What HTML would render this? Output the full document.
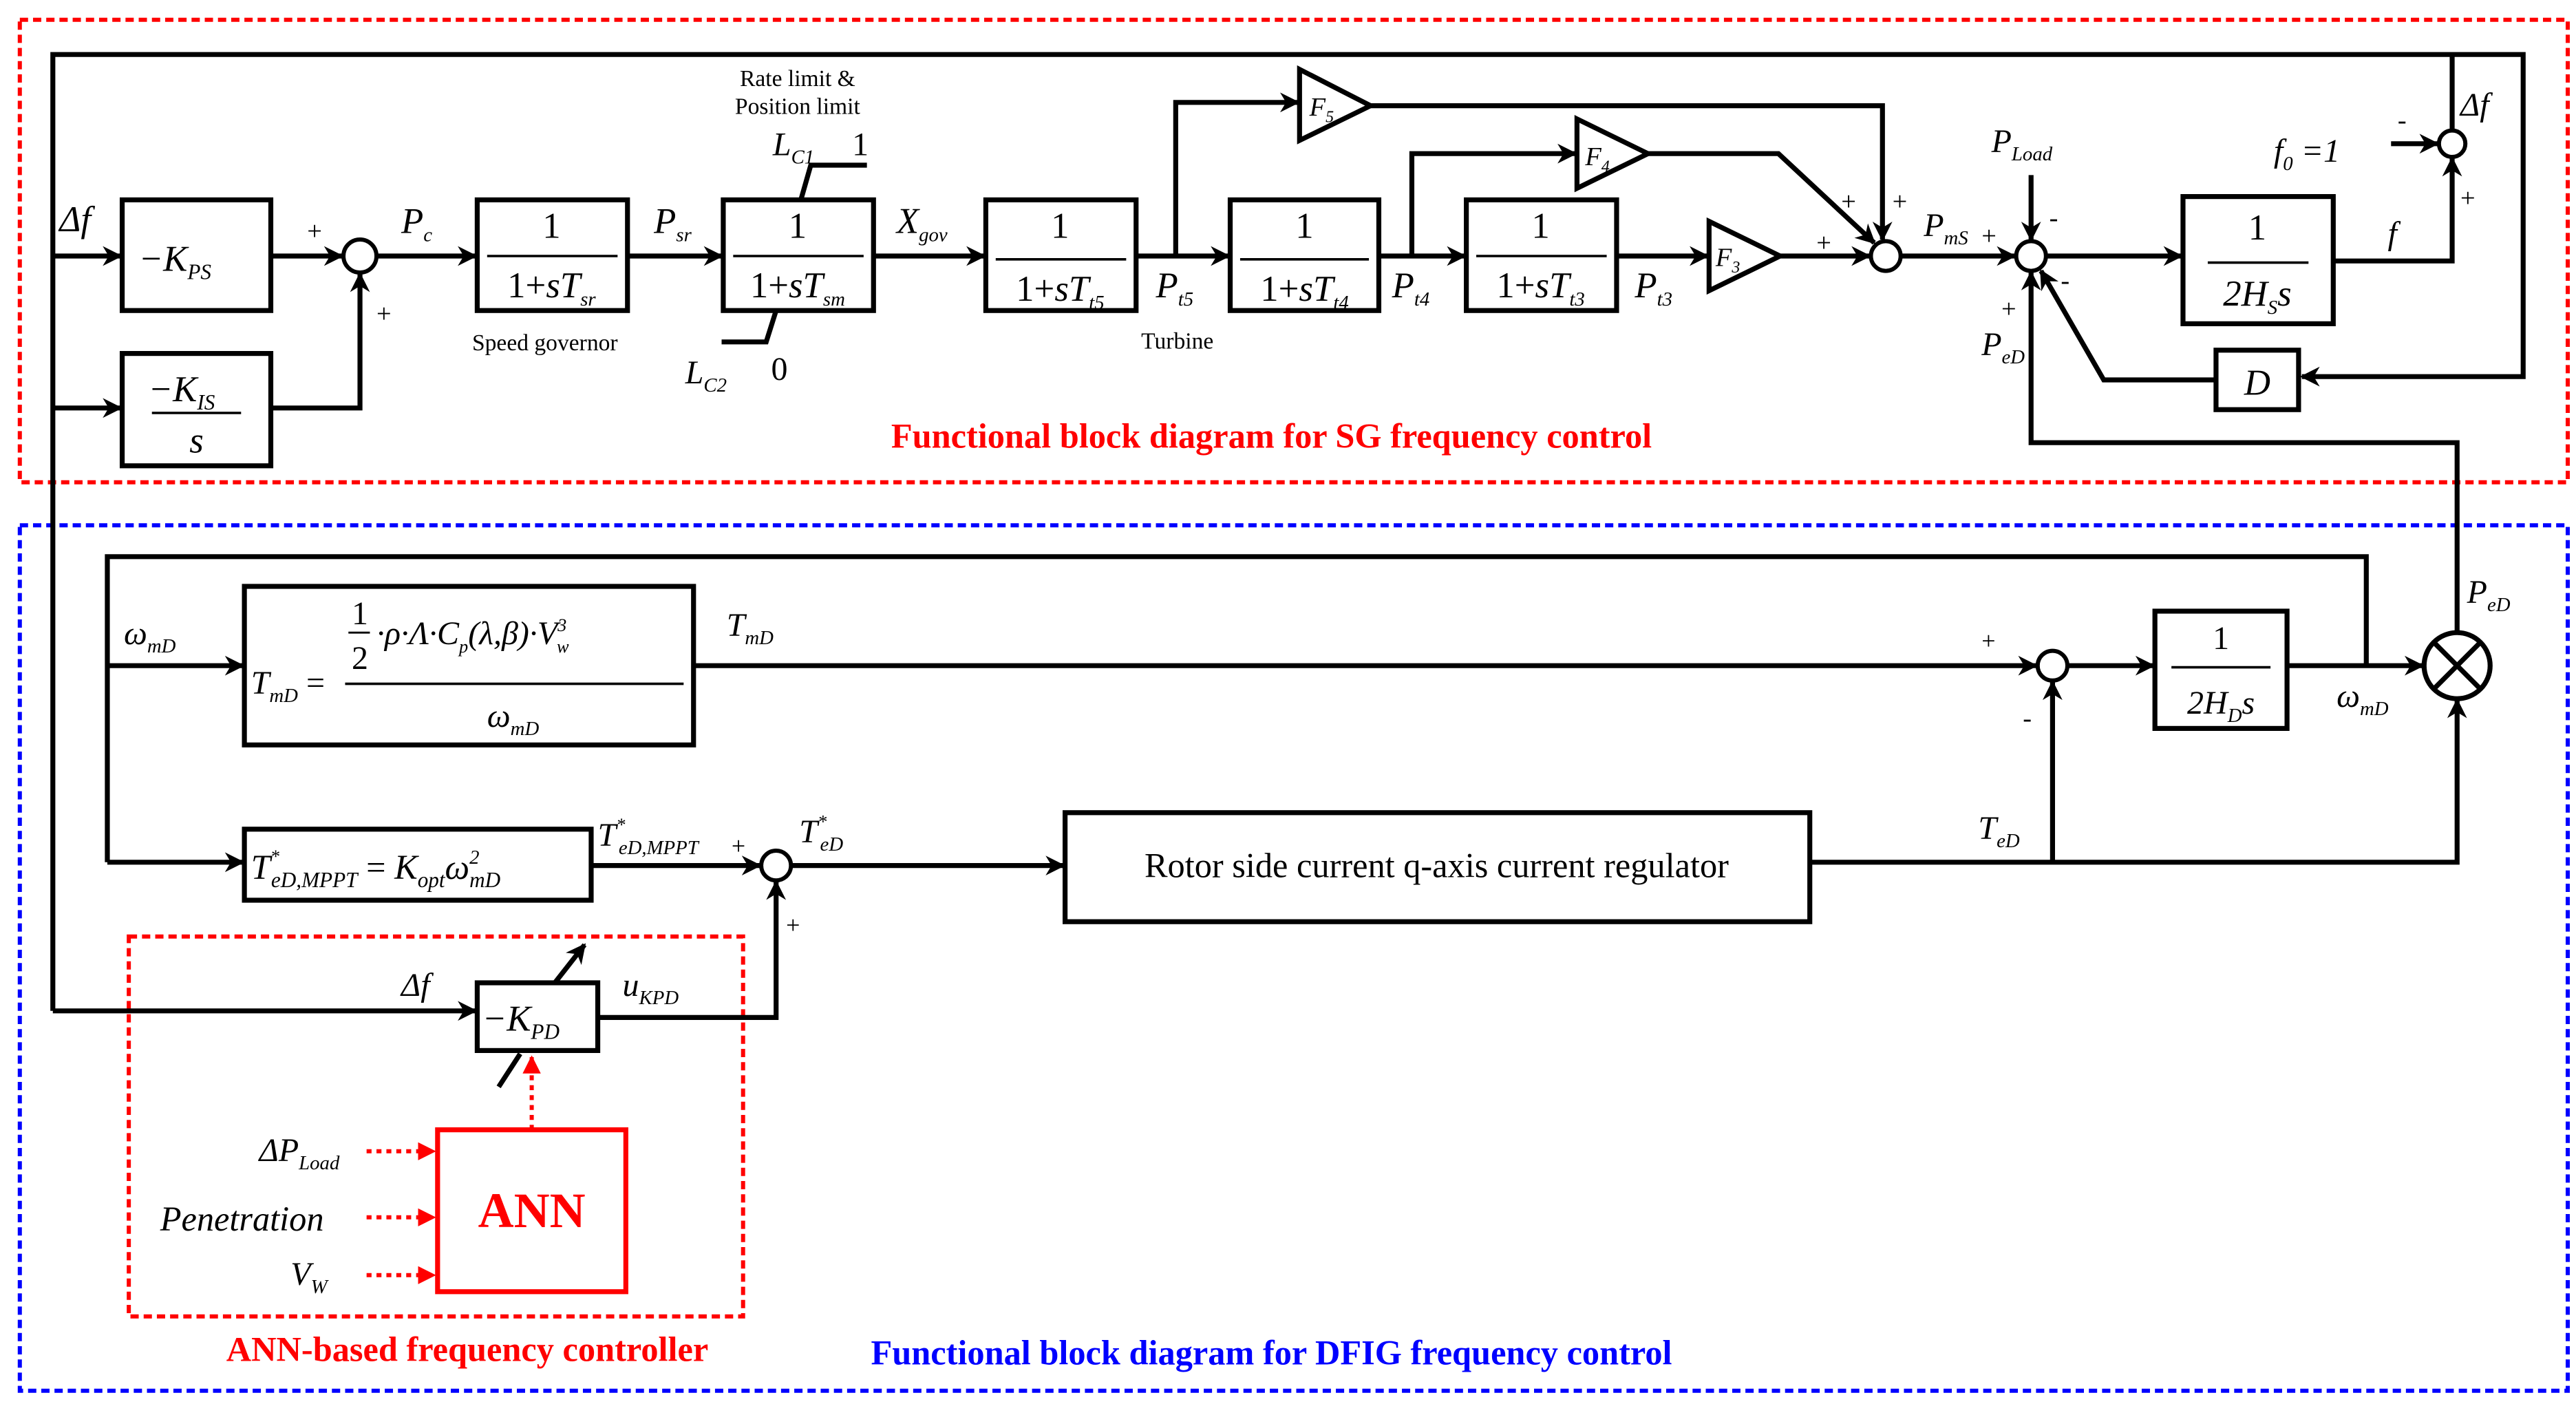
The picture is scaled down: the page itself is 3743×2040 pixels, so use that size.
<!DOCTYPE html>
<html><head><meta charset="utf-8"><style>
html,body{margin:0;padding:0;background:#fff;}
svg{display:block;}
text{font-family:"Liberation Serif",serif;fill:#000;}
.i{font-style:italic;}
</style></head><body>
<svg width="3743" height="2040" viewBox="0 0 1560 850" preserveAspectRatio="none" xmlns="http://www.w3.org/2000/svg">
<defs>
<marker id="ab" viewBox="0 0 10 10" refX="9" refY="5" markerWidth="12" markerHeight="12" orient="auto" markerUnits="userSpaceOnUse"><path d="M0,0 L10,5 L0,10 L3,5 z" fill="#000"/></marker>
<marker id="ar" viewBox="0 0 10 10" refX="9" refY="5" markerWidth="11" markerHeight="11" orient="auto" markerUnits="userSpaceOnUse"><path d="M0,0 L10,5 L0,10 z" fill="#f00"/></marker>
</defs>
<rect x="12" y="12" width="1543" height="280" fill="none" stroke="#f00" stroke-width="2.5" stroke-dasharray="5,3"/>
<rect x="12" y="318" width="1543" height="524" fill="none" stroke="#00f" stroke-width="2.5" stroke-dasharray="5,3"/>
<rect x="78" y="567" width="372" height="230" fill="none" stroke="#f00" stroke-width="2.5" stroke-dasharray="5,3"/>

<g fill="none" stroke="#000" stroke-width="3">
<polyline points="32,612 32,33 1528,33 1528,228 1394,228" marker-end="url(#ab)"/>
<line x1="32" y1="155" x2="73" y2="155" marker-end="url(#ab)"/>
<line x1="32" y1="247" x2="73" y2="247" marker-end="url(#ab)"/>
<line x1="1485" y1="33" x2="1485" y2="79"/>
<line x1="32" y1="612" x2="288" y2="612" marker-end="url(#ab)"/>
<rect x="74" y="121" width="90" height="67"/>
<rect x="74" y="214" width="90" height="68"/>
<rect x="289" y="121" width="91" height="67"/>
<rect x="438" y="121" width="91" height="67"/>
<rect x="597" y="121" width="91" height="67"/>
<rect x="745" y="121" width="90" height="67"/>
<rect x="888" y="121" width="91" height="67"/>
<rect x="1322" y="119" width="91" height="77"/>
<rect x="1342" y="212" width="50" height="36"/>
<circle cx="218" cy="155" r="10" stroke-width="2.5"/>
<circle cx="1142" cy="155" r="9" stroke-width="2.5"/>
<circle cx="1230" cy="155" r="9" stroke-width="2.5"/>
<circle cx="1485" cy="87" r="8" stroke-width="2.5"/>
<line x1="164" y1="155" x2="207" y2="155" marker-end="url(#ab)"/>
<polyline points="164,247 218,247 218,166" marker-end="url(#ab)"/>
<line x1="228" y1="155" x2="288" y2="155" marker-end="url(#ab)"/>
<line x1="380" y1="155" x2="437" y2="155" marker-end="url(#ab)"/>
<line x1="529" y1="155" x2="596" y2="155" marker-end="url(#ab)"/>
<line x1="688" y1="155" x2="744" y2="155" marker-end="url(#ab)"/>
<line x1="835" y1="155" x2="887" y2="155" marker-end="url(#ab)"/>
<line x1="979" y1="155" x2="1034" y2="155" marker-end="url(#ab)"/>
<polyline points="485,121 491,100 525,100"/>
<polyline points="470,188 464,207 437,207"/>
<polyline points="712,155 712,62 786,62" marker-end="url(#ab)"/>
<polyline points="855,155 855,93 954,93" marker-end="url(#ab)"/>
<polygon points="787,42 830,64 787,85"/>
<polygon points="955,72 998,93 955,114"/>
<polygon points="1035,134 1078,155 1035,176"/>
<polyline points="830,64 1140,64 1140,145" marker-end="url(#ab)"/>
<polyline points="998,93 1077,93 1135,147" marker-end="url(#ab)"/>
<line x1="1078" y1="155" x2="1132" y2="155" marker-end="url(#ab)"/>
<line x1="1151" y1="155" x2="1220" y2="155" marker-end="url(#ab)"/>
<line x1="1230" y1="106" x2="1230" y2="145" marker-end="url(#ab)"/>
<line x1="1239" y1="155" x2="1321" y2="155" marker-end="url(#ab)"/>
<polyline points="1413,158 1485,158 1485,96" marker-end="url(#ab)"/>
<line x1="1448" y1="87" x2="1476" y2="87" marker-end="url(#ab)"/>
<polyline points="1342,230 1274,230 1236,164" marker-end="url(#ab)"/>
<polyline points="1488,383 1488,268 1230,268 1230,165" marker-end="url(#ab)"/>

<polyline points="65,522 65,337 1433,337 1433,403"/>
<line x1="65" y1="403" x2="147" y2="403" marker-end="url(#ab)"/>
<line x1="65" y1="522" x2="147" y2="522" marker-end="url(#ab)"/>
<rect x="148" y="355" width="272" height="96"/>
<rect x="148" y="502" width="210" height="43"/>
<rect x="1305" y="370" width="80" height="71"/>
<rect x="645" y="492" width="451" height="66"/>
<rect x="289" y="595" width="73" height="41"/>
<circle cx="1243" cy="403" r="9" stroke-width="2.5"/>
<circle cx="470" cy="524" r="9" stroke-width="2.5"/>
<circle cx="1488" cy="403" r="20" stroke-width="3"/>
<line x1="1474" y1="389" x2="1502" y2="417"/>
<line x1="1502" y1="389" x2="1474" y2="417"/>
<line x1="420" y1="403" x2="1233" y2="403" marker-end="url(#ab)"/>
<line x1="1252" y1="403" x2="1304" y2="403" marker-end="url(#ab)"/>
<line x1="1385" y1="403" x2="1467" y2="403" marker-end="url(#ab)"/>
<line x1="358" y1="524" x2="460" y2="524" marker-end="url(#ab)"/>
<line x1="479" y1="524" x2="644" y2="524" marker-end="url(#ab)"/>
<polyline points="1096,522 1488,522 1488,424" marker-end="url(#ab)"/>
<line x1="1243" y1="522" x2="1243" y2="413" marker-end="url(#ab)"/>
<polyline points="362,616 470,616 470,534" marker-end="url(#ab)"/>
<line x1="336" y1="595" x2="354" y2="572" marker-end="url(#ab)"/>
<line x1="302" y1="658" x2="315" y2="638"/>
</g>
<rect x="265" y="684" width="114" height="98" fill="none" stroke="#f00" stroke-width="3"/>
<g stroke="#f00" stroke-width="2.5" stroke-dasharray="3,3" fill="none">
<line x1="222" y1="697" x2="263" y2="697" marker-end="url(#ar)"/>
<line x1="222" y1="737" x2="263" y2="737" marker-end="url(#ar)"/>
<line x1="222" y1="772" x2="263" y2="772" marker-end="url(#ar)"/>
<line x1="322" y1="684" x2="322" y2="640" marker-end="url(#ar)"/>
</g>
<text x="322" y="743" font-size="30" font-weight="bold" style="fill:#f00" text-anchor="middle">ANN</text>

<g font-size="22">
<text x="36" y="140" class="i">Δf</text>
<text x="84" y="164" class="i">−K<tspan font-size="13" dy="5">PS</tspan></text>
<text x="110" y="243" class="i" text-anchor="middle">−K<tspan font-size="13" dy="5">IS</tspan></text>
<line x1="92" y1="250" x2="146" y2="250" stroke="#000" stroke-width="1.5"/>
<text x="119" y="274" class="i" text-anchor="middle">s</text>
<text x="186" y="145" font-size="16">+</text>
<text x="228" y="195" font-size="16">+</text>
<text x="243" y="141" class="i">P<tspan font-size="12" dy="5">c</tspan></text>
<text x="396" y="141" class="i">P<tspan font-size="12" dy="5">sr</tspan></text>
<text x="543" y="141" class="i">X<tspan font-size="12" dy="5">gov</tspan></text>
<text x="700" y="180" class="i">P<tspan font-size="12" dy="5">t5</tspan></text>
<text x="843" y="180" class="i">P<tspan font-size="12" dy="5">t4</tspan></text>
<text x="990" y="180" class="i">P<tspan font-size="12" dy="5">t3</tspan></text>
</g>
<g font-size="22" text-anchor="middle">
<text x="334" y="144">1</text><line x1="295" y1="155" x2="374" y2="155" stroke="#000" stroke-width="1.5"/>
<text x="334" y="180">1+<tspan class="i">sT</tspan><tspan font-size="12" dy="5" class="i">sr</tspan></text>
<text x="483" y="144">1</text><line x1="444" y1="155" x2="523" y2="155" stroke="#000" stroke-width="1.5"/>
<text x="483" y="180">1+<tspan class="i">sT</tspan><tspan font-size="12" dy="5" class="i">sm</tspan></text>
<text x="642" y="144">1</text><line x1="603" y1="157" x2="682" y2="157" stroke="#000" stroke-width="1.5"/>
<text x="642" y="182">1+<tspan class="i">sT</tspan><tspan font-size="12" dy="5" class="i">t5</tspan></text>
<text x="790" y="144">1</text><line x1="751" y1="157" x2="829" y2="157" stroke="#000" stroke-width="1.5"/>
<text x="790" y="182">1+<tspan class="i">sT</tspan><tspan font-size="12" dy="5" class="i">t4</tspan></text>
<text x="933" y="144">1</text><line x1="894" y1="155" x2="973" y2="155" stroke="#000" stroke-width="1.5"/>
<text x="933" y="180">1+<tspan class="i">sT</tspan><tspan font-size="12" dy="5" class="i">t3</tspan></text>
<text x="1367" y="145">1</text><line x1="1337" y1="159" x2="1398" y2="159" stroke="#000" stroke-width="1.5"/>
<text x="1367" y="185" class="i">2H<tspan font-size="12" dy="5">S</tspan><tspan dy="-5">s</tspan></text>
<text x="1367" y="239" class="i">D</text>
<text x="330" y="212" font-size="14">Speed governor</text>
<text x="713" y="211" font-size="14">Turbine</text>
<text x="483" y="52" font-size="14">Rate limit &amp;</text>
<text x="483" y="69" font-size="14">Position limit</text>
</g>
<g font-size="20">
<text x="468" y="94" class="i">L<tspan font-size="12" dy="5">C1</tspan></text>
<text x="516" y="94">1</text>
<text x="415" y="232" class="i">L<tspan font-size="12" dy="5">C2</tspan></text>
<text x="467" y="230">0</text>
<text x="793" y="70" class="i" font-size="16">F<tspan font-size="10" dy="4">5</tspan></text>
<text x="960" y="100" class="i" font-size="16">F<tspan font-size="10" dy="4">4</tspan></text>
<text x="1039" y="161" class="i" font-size="16">F<tspan font-size="10" dy="4">3</tspan></text>
<text x="1115" y="127" font-size="16">+</text>
<text x="1146" y="127" font-size="16">+</text>
<text x="1100" y="152" font-size="16">+</text>
<text x="1165" y="143" class="i">P<tspan font-size="12" dy="5">mS</tspan></text>
<text x="1200" y="148" font-size="16">+</text>
<text x="1206" y="92" class="i">P<tspan font-size="12" dy="5">Load</tspan></text>
<text x="1241" y="137" font-size="16">-</text>
<text x="1248" y="175" font-size="16">-</text>
<text x="1212" y="192" font-size="16">+</text>
<text x="1200" y="215" class="i">P<tspan font-size="12" dy="5">eD</tspan></text>
<text x="1446" y="148" class="i">f</text>
<text x="1377" y="98" class="i">f<tspan font-size="12" dy="5">0</tspan><tspan dy="-5"> =1</tspan></text>
<text x="1452" y="78" font-size="16">-</text>
<text x="1490" y="125" font-size="16">+</text>
<text x="1490" y="70" class="i">Δf</text>
</g>
<text x="770" y="271" font-size="21" font-weight="bold" text-anchor="middle" style="fill:#f00">Functional block diagram for SG  frequency control</text>

<g font-size="20">
<text x="75" y="390" class="i">ω<tspan font-size="12" dy="5">mD</tspan></text>
<text x="152" y="420" class="i">T<tspan font-size="12" dy="5">mD</tspan><tspan dy="-5" font-style="normal"> =</tspan></text>
<text x="213" y="378">1</text><line x1="211" y1="383" x2="224" y2="383" stroke="#000" stroke-width="1.2"/>
<text x="213" y="405">2</text>
<text x="228" y="390" class="i">·ρ·Λ·C<tspan font-size="11" dy="5">p</tspan><tspan dy="-5">(λ,β)·V</tspan><tspan font-size="11" dy="-8">3</tspan><tspan font-size="11" dx="-6" dy="13">w</tspan></text>
<line x1="209" y1="414" x2="414" y2="414" stroke="#000" stroke-width="1.5"/>
<text x="295" y="440" class="i">ω<tspan font-size="12" dy="5">mD</tspan></text>
<text x="440" y="385" class="i">T<tspan font-size="12" dy="5">mD</tspan></text>
<text x="1200" y="393" font-size="15">+</text>
<text x="1225" y="440" font-size="16">-</text>
<text x="1415" y="428" class="i">ω<tspan font-size="12" dy="5">mD</tspan></text>
<text x="1345" y="393" text-anchor="middle">1</text><line x1="1315" y1="404" x2="1375" y2="404" stroke="#000" stroke-width="1.5"/>
<text x="1345" y="432" class="i" text-anchor="middle">2H<tspan font-size="12" dy="5">D</tspan><tspan dy="-5">s</tspan></text>
<text x="1494" y="365" class="i">P<tspan font-size="12" dy="5">eD</tspan></text>
<text x="152" y="532" class="i" font-size="21">T<tspan font-size="11" dy="-10">*</tspan><tspan font-size="13" dx="-5" dy="15">eD,MPPT</tspan><tspan dy="-5" font-style="normal" font-size="21"> = </tspan>K<tspan font-size="13" dy="5">opt</tspan><tspan dy="-5">ω</tspan><tspan font-size="12" dy="-9">2</tspan><tspan font-size="13" dx="-6" dy="14">mD</tspan></text>
<text x="362" y="512" class="i">T<tspan font-size="11" dy="-9">*</tspan><tspan font-size="12" dx="-4" dy="14">eD,MPPT</tspan></text>
<text x="443" y="517" font-size="15">+</text>
<text x="484" y="510" class="i">T<tspan font-size="11" dy="-9">*</tspan><tspan font-size="12" dx="-4" dy="14">eD</tspan></text>
<text x="476" y="565" font-size="15">+</text>
<text x="1198" y="508" class="i">T<tspan font-size="12" dy="5">eD</tspan></text>
<text x="870" y="531" text-anchor="middle" font-size="21">Rotor side current q-axis current regulator</text>
<text x="243" y="603" class="i">Δf</text>
<text x="292" y="624" class="i" font-size="22">−K<tspan font-size="13" dy="5">PD</tspan></text>
<text x="377" y="603" class="i">u<tspan font-size="12" dy="5">KPD</tspan></text>
<text x="157" y="703" class="i">ΔP<tspan font-size="12" dy="5">Load</tspan></text>
<text x="97" y="745" class="i" font-size="21">Penetration</text>
<text x="176" y="778" class="i">V<tspan font-size="12" dy="5">W</tspan></text>
</g>
<text x="283" y="824" font-size="21" font-weight="bold" text-anchor="middle" style="fill:#f00">ANN-based frequency controller</text>
<text x="770" y="826" font-size="21" font-weight="bold" text-anchor="middle" style="fill:#00f">Functional block diagram for DFIG  frequency control</text>
</svg>
</body></html>
